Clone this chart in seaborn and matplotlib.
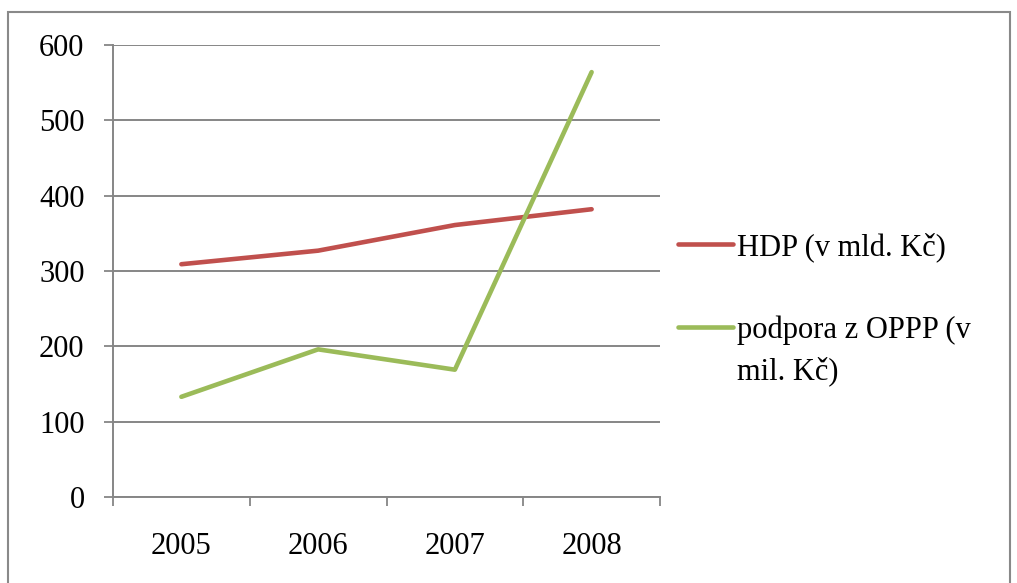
import numpy as np
import pandas as pd
import matplotlib
matplotlib.use("Agg")
import matplotlib.pyplot as plt
import seaborn as sns
from matplotlib.patches import Rectangle

# Data
years = ["2005", "2006", "2007", "2008"]
hdp = [309, 327, 361, 382]
oppp = [133, 196, 169, 564]
series_names = ["HDP (v mld. Kč)", "podpora z OPPP (v mil. Kč)"]
y_ticks = [0, 100, 200, 300, 400, 500, 600]

pos = np.arange(len(years))
df = pd.DataFrame({
    "pos": np.concatenate([pos, pos]),
    "value": hdp + oppp,
    "series": [series_names[0]] * len(years) + [series_names[1]] * len(years),
})

sns.set_style("white")
plt.rcParams["font.family"] = ["Liberation Serif", "DejaVu Serif"]
plt.rcParams["text.color"] = "black"

W, H = 1017, 583
fs = 22
fig = plt.figure(figsize=(W / 100, H / 100), dpi=100)
ax = fig.add_axes([113 / W, 1 - 497 / H, (660 - 113) / W, (497 - 45) / H])

palette = {series_names[0]: "#C0504D", series_names[1]: "#9BBB59"}
sns.lineplot(data=df, x="pos", y="value", hue="series", palette=palette,
             linewidth=3.3, ax=ax, solid_capstyle="round", legend=False)

grid_c = "#868686"
ax.set_xlim(-0.5, len(years) - 0.5)
ax.set_ylim(0, 600)
ax.set_yticks(y_ticks)
ax.set_yticklabels([str(v) for v in y_ticks])
ax.set_xticks(np.arange(-0.5, len(years), 1.0))
ax.set_xticklabels([])
ax.set_xticks(pos, minor=True)
ax.set_xticklabels(years, minor=True)
ax.tick_params(axis="x", which="major", bottom=True, direction="out", length=6.5, width=1.3, color=grid_c)
ax.tick_params(axis="x", which="minor", bottom=False, length=0, pad=25, labelsize=fs, labelcolor="black")
ax.tick_params(axis="y", left=True, direction="out", length=6.5, width=1.3, color=grid_c,
               pad=14, labelsize=fs, labelcolor="black")
ax.yaxis.grid(True, color=grid_c, linewidth=1.4)
ax.xaxis.grid(False)
ax.set_axisbelow(True)
for side in ["top", "right"]:
    ax.spines[side].set_visible(False)
for side in ["left", "bottom"]:
    ax.spines[side].set_color(grid_c)
    ax.spines[side].set_linewidth(1.4)
ax.set_xlabel("")
ax.set_ylabel("")

# legend on the right; the long label wraps like in the original
legend_labels = ["HDP (v mld. Kč)", "podpora z OPPP (v"]
handles = [plt.Line2D([], [], color=palette[n], linewidth=3.3, solid_capstyle="round") for n in series_names]
leg = fig.legend(handles, legend_labels, loc="upper left", bbox_to_anchor=(666 / W, 1 - 220 / H),
                 frameon=False, fontsize=fs, handlelength=1.8, handletextpad=0.13,
                 labelspacing=1.75, borderaxespad=0)
fig.canvas.draw()
bb = leg.get_texts()[1].get_window_extent()
fig.text(bb.x0 / W, (bb.y0 - 41) / H, "mil. Kč)", fontsize=fs, ha="left", va="bottom")

# outer chart frame
fig.patches.append(Rectangle((8 / W, -0.01), (1010 - 8) / W, 1 - 12 / H + 0.01,
                             transform=fig.transFigure, fill=False,
                             edgecolor="#898989", linewidth=1.5))

fig.savefig("out.png", dpi=100)
